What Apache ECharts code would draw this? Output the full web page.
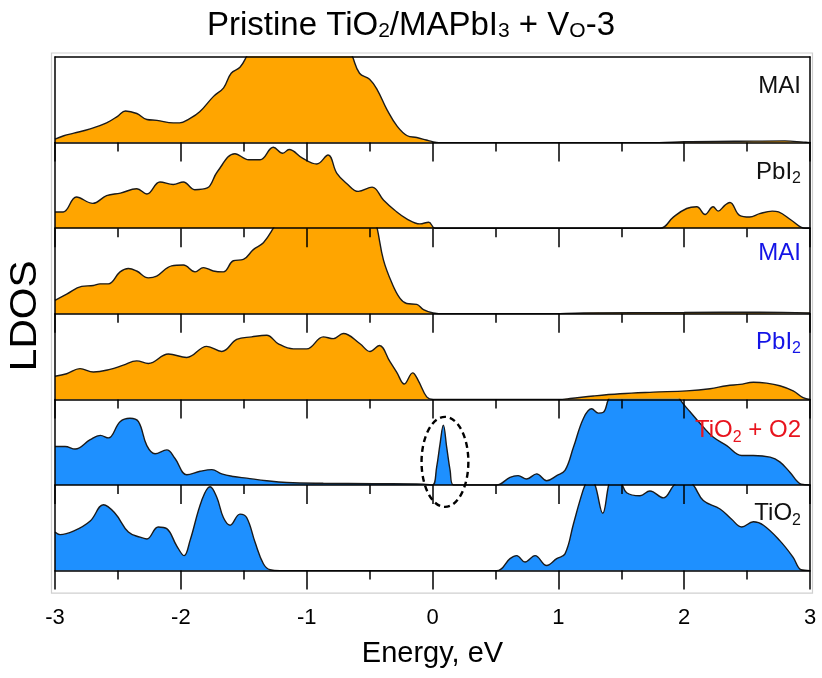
<!DOCTYPE html>
<html>
<head>
<meta charset="utf-8">
<title>LDOS</title>
<script src="https://cdn.jsdelivr.net/npm/echarts@6/dist/echarts.min.js"></script>
<style>
  html, body { margin: 0; padding: 0; background: #fff; }
  #chart { width: 822px; height: 678px; }
</style>
</head>
<body>
<div id="chart"></div>
<script>
// Energy axis ticks (eV)
const energyTicks = [-3, -2, -1, 0, 1, 2, 3];

// Layer-resolved DOS, [energy (eV), relative DOS] per panel, top to bottom.
// Values above 1 run past the top of their panel.
const maiTop = [
  [-3.0,0.04],[-2.93,0.08],[-2.85,0.11],[-2.72,0.16],[-2.59,0.23],[-2.5,0.31],[-2.44,0.37],
  [-2.35,0.34],[-2.27,0.27],[-2.19,0.26],[-2.06,0.23],[-2.01,0.23],[-1.93,0.28],[-1.85,0.36],
  [-1.74,0.54],[-1.66,0.64],[-1.6,0.81],[-1.53,0.88],[-1.48,1.0],[-1.4,1.25],[-1.2,1.4],
  [-1.0,1.4],[-0.8,1.35],[-0.7,1.2],[-0.64,1.02],[-0.58,0.81],[-0.5,0.74],[-0.44,0.62],
  [-0.36,0.38],[-0.28,0.19],[-0.2,0.08],[-0.125,0.06],[-0.05,0.03],[0.0,0.01],[0.05,0.0],
  [1.8,0.0],[2.0,0.01],[2.4,0.015],[2.8,0.02],[2.95,0.005],[3.0,0.0]
];
const pbi2Top = [
  [-3.0,0.19],[-2.934,0.19],[-2.83,0.365],[-2.70,0.29],[-2.59,0.38],[-2.48,0.41],[-2.35,0.46],
  [-2.27,0.40],[-2.166,0.54],[-2.06,0.51],[-1.98,0.54],[-1.89,0.45],[-1.79,0.47],[-1.71,0.66],
  [-1.57,0.87],[-1.46,0.80],[-1.37,0.80],[-1.265,0.945],[-1.19,0.875],[-1.14,0.92],[-1.03,0.815],
  [-0.92,0.75],[-0.83,0.855],[-0.76,0.64],[-0.68,0.52],[-0.59,0.43],[-0.48,0.48],[-0.39,0.33],
  [-0.30,0.21],[-0.205,0.11],[-0.10,0.05],[-0.03,0.07],[0.02,0.0],[1.81,0.0],[1.914,0.13],
  [2.02,0.23],[2.10,0.25],[2.166,0.16],[2.23,0.25],[2.27,0.20],[2.325,0.27],[2.364,0.30],
  [2.44,0.15],[2.52,0.13],[2.60,0.17],[2.70,0.20],[2.75,0.19],[2.855,0.09],[2.96,0.0],[3.0,0.0]
];
const maiInner = [
  [-3.0,0.157],[-2.907,0.23],[-2.788,0.32],[-2.695,0.33],[-2.642,0.35],[-2.576,0.35],[-2.483,0.49],
  [-2.417,0.53],[-2.351,0.50],[-2.258,0.42],[-2.192,0.44],[-2.073,0.56],[-1.98,0.57],[-1.887,0.49],
  [-1.821,0.54],[-1.742,0.50],[-1.662,0.49],[-1.583,0.62],[-1.503,0.635],[-1.424,0.75],[-1.344,0.83],
  [-1.265,1.0],[-1.15,1.3],[-0.9,1.4],[-0.6,1.35],[-0.47,1.15],[-0.44,1.0],[-0.39,0.63],[-0.32,0.35],
  [-0.258,0.18],[-0.205,0.12],[-0.125,0.11],[-0.072,0.05],[0.006,0.01],[0.1,0.0],[0.9,0.0],
  [1.2,0.01],[2.0,0.015],[2.6,0.02],[3.0,0.01]
];
const pbi2Inner = [
  [-3.0,0.27],[-2.907,0.30],[-2.801,0.36],[-2.695,0.32],[-2.563,0.35],[-2.457,0.40],[-2.351,0.45],
  [-2.258,0.42],[-2.099,0.53],[-1.953,0.49],[-1.794,0.62],[-1.675,0.56],[-1.556,0.70],[-1.437,0.73],
  [-1.318,0.75],[-1.225,0.65],[-1.106,0.59],[-1.0,0.59],[-0.868,0.73],[-0.788,0.71],[-0.709,0.77],
  [-0.576,0.65],[-0.497,0.56],[-0.423,0.63],[-0.338,0.44],[-0.285,0.32],[-0.224,0.18],[-0.158,0.31],
  [-0.113,0.22],[-0.046,0.03],[0.006,0.0],[1.0,0.0],[1.093,0.01],[1.279,0.04],[1.49,0.066],
  [1.755,0.085],[2.02,0.10],[2.205,0.125],[2.338,0.16],[2.444,0.175],[2.55,0.20],[2.655,0.19],
  [2.76,0.16],[2.866,0.10],[2.945,0.02],[3.0,0.0]
];
const tio2O2 = [
  [-3.0,0.45],[-2.92,0.45],[-2.84,0.42],[-2.72,0.53],[-2.64,0.58],[-2.576,0.55],[-2.483,0.74],
  [-2.404,0.78],[-2.337,0.74],[-2.27,0.46],[-2.205,0.365],[-2.112,0.41],[-2.046,0.31],[-1.953,0.12],
  [-1.847,0.16],[-1.754,0.18],[-1.675,0.13],[-1.583,0.10],[-1.477,0.08],[-1.318,0.05],[-1.159,0.03],
  [-0.868,0.02],[-0.47,0.015],[-0.072,0.01],[0.0,0.0],
  [0.033,0.21],[0.06,0.48],[0.086,0.70],[0.113,0.44],[0.14,0.17],[0.166,0.0],
  [0.51,0.0],[0.616,0.09],[0.68,0.11],[0.748,0.07],[0.828,0.13],[0.907,0.05],[0.987,0.11],
  [1.053,0.17],[1.12,0.44],[1.20,0.78],[1.265,0.89],[1.318,0.84],[1.358,0.85],[1.398,1.0],
  [1.5,1.3],[1.7,1.4],[1.9,1.2],[1.967,1.0],[2.047,0.855],[2.15,0.68],[2.23,0.56],[2.338,0.46],
  [2.457,0.345],[2.55,0.345],[2.683,0.325],[2.76,0.27],[2.84,0.15],[2.93,0.01],[3.0,0.0]
];
const tio2 = [
  [-3.0,0.45],[-2.96,0.42],[-2.854,0.46],[-2.72,0.58],[-2.615,0.77],[-2.523,0.67],[-2.417,0.45],
  [-2.324,0.39],[-2.27,0.37],[-2.18,0.51],[-2.112,0.49],[-2.033,0.29],[-1.974,0.175],[-1.927,0.35],
  [-1.834,0.82],[-1.768,0.98],[-1.715,0.86],[-1.662,0.62],[-1.609,0.53],[-1.53,0.66],[-1.477,0.62],
  [-1.41,0.33],[-1.344,0.08],[-1.291,0.01],[-1.212,0.0],[0.51,0.0],[0.616,0.14],[0.669,0.175],
  [0.735,0.10],[0.815,0.175],[0.907,0.06],[0.987,0.14],[1.053,0.195],[1.12,0.545],[1.172,0.82],
  [1.212,1.0],[1.25,1.1],[1.292,1.0],[1.353,0.67],[1.40,1.0],[1.424,1.1],[1.49,1.05],[1.543,0.91],
  [1.649,0.875],[1.728,0.93],[1.834,0.85],[1.914,0.99],[1.954,1.05],[2.0,1.1],[2.073,1.0],
  [2.152,0.82],[2.285,0.72],[2.377,0.60],[2.457,0.51],[2.55,0.57],[2.63,0.53],[2.76,0.35],
  [2.866,0.155],[2.93,0.01],[3.0,0.0]
];

// Panel labels: [text, subscript, rest]
const panelLabels = [
  ['MAI', '', ''], ['PbI', '2', ''], ['MAI', '', ''],
  ['PbI', '2', ''], ['TiO', '2', ' + O2'], ['TiO', '2', '']
];
const panelSeries = [maiTop, pbi2Top, maiInner, pbi2Inner, tio2O2, tio2];

const ORANGE = '#FFA500';
const BLUE = '#1E90FF';
const fills = [ORANGE, ORANGE, ORANGE, ORANGE, BLUE, BLUE];
const labelColors = ['#111', '#111', '#1414E6', '#1414E6', '#E8141E', '#111'];
const labelOffsets = [29.6, 29.3, 25.3, 28.1, 31, 28.8];

const FONT = '"Liberation Sans", Arial, Helvetica, sans-serif';
const PLOT_LEFT = 55, PLOT_RIGHT = 12, PLOT_TOP = 57, PANEL_H = 85.6;

const chart = echarts.init(document.getElementById('chart'), null, { renderer: 'canvas' });

const grids = [], xAxes = [], yAxes = [], series = [];
const black = { color: '#000', width: 1.5 };

panelSeries.forEach((data, i) => {
  grids.push({ left: PLOT_LEFT, right: PLOT_RIGHT, top: PLOT_TOP + i * PANEL_H, height: PANEL_H });
  const last = i === panelSeries.length - 1;
  xAxes.push({
    gridIndex: i, type: 'value', min: energyTicks[0], max: energyTicks[energyTicks.length - 1],
    interval: 1, position: 'bottom', z: 10,
    axisLine: { show: true, onZero: false, lineStyle: black },
    axisTick: { show: true, inside: false, length: 19, lineStyle: black },
    minorTick: { show: true, splitNumber: 2, length: 9, lineStyle: black },
    splitLine: { show: false },
    axisLabel: { show: last, fontFamily: FONT, fontSize: 22, color: '#000', margin: 36 },
    name: last ? 'Energy, eV' : '',
    nameLocation: 'middle', nameGap: 69,
    nameTextStyle: { fontFamily: FONT, fontSize: 29, color: '#000' }
  });
  yAxes.push({
    gridIndex: i, type: 'value', min: 0, max: 1, position: 'left', z: 10,
    axisLine: { show: true, onZero: false, lineStyle: black },
    axisTick: { show: false }, axisLabel: { show: false }, splitLine: { show: false }
  });
  series.push({
    type: 'line', xAxisIndex: i, yAxisIndex: i, data: data,
    smooth: 0.4, symbol: 'none', clip: true,
    lineStyle: { color: '#1a1a1a', width: 1.4 },
    areaStyle: { color: fills[i], opacity: 1 },
    silent: true, animation: false
  });
});

// Top frame of the first panel and right frame of every panel
xAxes.push({
  gridIndex: 0, type: 'value', min: -3, max: 3, position: 'top', z: 10,
  axisLine: { show: true, onZero: false, lineStyle: black },
  axisTick: { show: false }, axisLabel: { show: false }, splitLine: { show: false }
});
panelSeries.forEach((d, i) => {
  yAxes.push({
    gridIndex: i, type: 'value', min: 0, max: 1, position: 'right', z: 10,
    axisLine: { show: true, onZero: false, lineStyle: black },
    axisTick: { show: false }, axisLabel: { show: false }, splitLine: { show: false }
  });
});

chart.setOption({
  animation: false,
  backgroundColor: '#fff',
  title: {
    text: '{n|Pristine TiO}{s|2}{n|/MAPbI}{s|3}{n| + V}{s|O}{n|-3}',
    left: 'center', top: 5,
    textStyle: {
      rich: {
        n: { fontFamily: FONT, fontSize: 33, fontWeight: 'normal', color: '#000', lineHeight: 32, verticalAlign: 'middle' },
        s: { fontFamily: FONT, fontSize: 21, fontWeight: 'normal', color: '#000', lineHeight: 12, verticalAlign: 'bottom' }
      }
    }
  },
  grid: grids,
  xAxis: xAxes,
  yAxis: yAxes,
  series: series
});

// Annotations placed through the axes' own coordinate conversion
function px(i, x, y) {
  return chart.convertToPixel({ xAxisIndex: i, yAxisIndex: i }, [x, y]);
}
const graphics = [];

// Light outer frame around the stacked panels
const tl = px(0, -3, 1), br = px(5, 3, 0);
graphics.push({
  type: 'rect', z: 0, silent: true,
  shape: { x: tl[0] - 3.5, y: tl[1] - 4, width: br[0] - tl[0] + 6, height: br[1] - tl[1] + 26.5 },
  style: { fill: null, stroke: '#cfcfcf', lineWidth: 1.2 }
});

// Panel labels with subscripts
panelLabels.forEach((lab, i) => {
  const corner = px(i, 3, 1);
  const color = labelColors[i];
  let text = '{n|' + lab[0] + '}';
  if (lab[1]) text += '{s|' + lab[1] + '}';
  if (lab[2]) text += '{n|' + lab[2] + '}';
  graphics.push({
    type: 'text', z: 20, silent: true,
    style: {
      x: corner[0] - 9, y: corner[1] + labelOffsets[i] - 15,
      align: 'right', verticalAlign: 'top',
      text: text,
      rich: {
        n: { fontFamily: FONT, fontSize: 24, fill: color, lineHeight: 30, verticalAlign: 'middle' },
        s: { fontFamily: FONT, fontSize: 16, fill: color, lineHeight: 12, verticalAlign: 'bottom' }
      }
    }
  });
});

// Rotated y-axis caption
const mid = px(2, -3, 0);
graphics.push({
  type: 'text', z: 20, silent: true, x: 26, y: mid[1] + 2, rotation: Math.PI / 2,
  scaleX: 1.1,
  style: { text: 'LDOS', fontFamily: FONT, fontSize: 37, fill: '#000', align: 'center', verticalAlign: 'middle' }
});

// Dashed ellipse around the gap state
const c = px(4, 0.099, 0.27);
const ex = px(4, 0.099 + 0.186, 0.27);
const ey = px(4, 0.099, 0.27 + 0.526);
graphics.push({
  type: 'ellipse', z: 20, silent: true,
  shape: { cx: c[0], cy: c[1], rx: Math.abs(ex[0] - c[0]), ry: Math.abs(c[1] - ey[1]) },
  style: { fill: null, stroke: '#000', lineWidth: 2.4, lineDash: [6, 4] }
});

chart.setOption({ graphic: graphics });
</script>
</body>
</html>
